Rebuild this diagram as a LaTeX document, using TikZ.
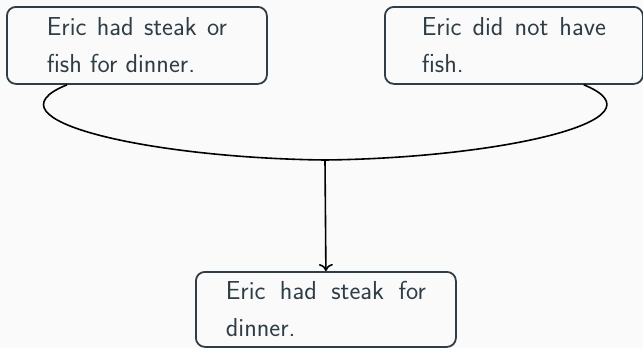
\documentclass[tikz,border=0pt]{standalone}
\usetikzlibrary{calc,arrows.meta}
\definecolor{slate}{RGB}{47,62,70}
\definecolor{paper}{RGB}{250,250,250}
% first line of a statement, spread to a fixed width
\newcommand{\spreadline}[2]{\makebox[#1][s]{#2}}
\begin{document}
\begin{tikzpicture}[x=1pt,y=-1pt,
  stmt/.style={draw=slate, line width=1.8pt, rounded corners=9pt, text=slate,
    font=\sffamily\fontsize{26}{37}\selectfont, align=left,
    inner xsep=0pt, inner ysep=0pt, minimum width=260pt, minimum height=77pt,
    anchor=north west},
  link/.style={black, line width=1.6pt},
  arr/.style={link, -{To[length=7pt,width=14pt]}}]
  \fill[paper] (0,0) rectangle (643,348);
  \useasboundingbox (0,0) rectangle (643,348);
  \node[stmt] (a) at (6,6) {\spreadline{180pt}{Eric had steak or}\\fish for dinner.};
  \node[stmt, minimum width=258pt] (b) at (384,6) {\spreadline{184pt}{Eric did not have}\\fish.};
  \node[stmt, minimum height=75pt] (c) at (195,271) {\spreadline{200pt}{Eric had steak for}\\dinner.};
  \coordinate (j) at (325,160);
  \draw[link] ([xshift=61pt]a.south west) .. controls (-20,120) and (150,158) .. (j)
              .. controls (500,158) and (670,120) .. ([xshift=-60pt]b.south east);
  \draw[arr] (j) -- (c.north);
\end{tikzpicture}
\end{document}
